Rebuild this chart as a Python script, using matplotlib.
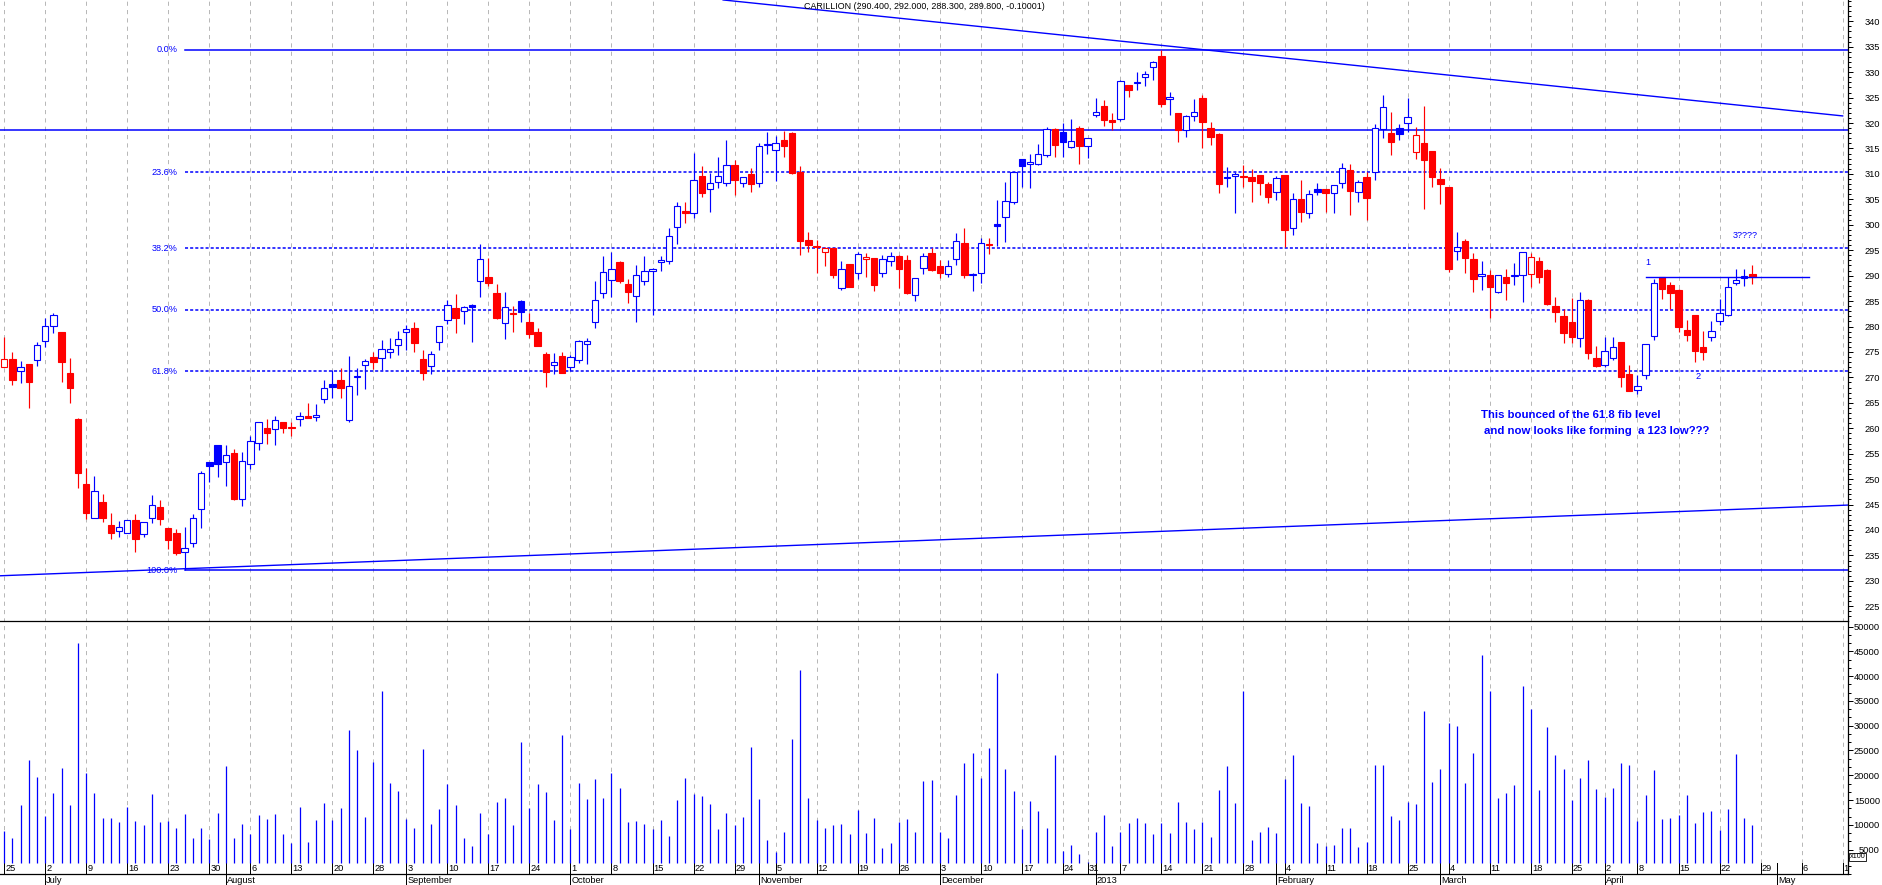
import numpy as np
import matplotlib
matplotlib.use("Agg")
import matplotlib.pyplot as plt
from matplotlib.ticker import MultipleLocator
from matplotlib.transforms import blended_transform_factory

plt.rcParams['font.family'] = ['Liberation Sans', 'DejaVu Sans']
plt.rcParams['lines.scale_dashes'] = False

BLUE = '#0000ff'
RED = '#ff0000'
GRID = '#b8b8b8'

# daily bars, 25 Jun 2012 .. 26 Apr 2013, trading days only
opens = [272.0, 273.6, 271.2, 272.6, 273.5, 277.1, 280.2, 278.9, 270.8, 261.9,
         249.0, 242.3, 245.5, 240.9, 239.8, 239.5, 242.0, 239.3, 242.4, 244.6,
         240.4, 239.5, 235.6, 237.5, 244.1, 253.4, 256.7, 253.4, 255.1, 246.0,
         253.0, 257.2, 260.0, 259.9, 261.2, 260.3, 261.9, 262.4, 262.3, 265.7,
         268.7, 269.5, 261.6, 270.0, 272.4, 274.1, 273.9, 275.0, 276.3, 279.0,
         279.8, 273.7, 272.2, 276.9, 281.2, 283.6, 283.0, 284.3, 289.0, 289.7,
         286.5, 280.6, 282.7, 285.1, 280.9, 279.0, 274.6, 272.5, 274.2, 272.1,
         273.5, 276.5, 280.8, 286.5, 289.1, 292.7, 288.4, 286.0, 289.0, 291.0,
         292.7, 292.9, 299.6, 302.6, 302.4, 309.6, 307.0, 308.5, 308.3, 311.7,
         308.2, 310.0, 308.3, 315.6, 314.8, 316.7, 318.0, 310.4, 297.0, 295.6,
         294.6, 295.4, 287.5, 292.3, 290.5, 293.2, 293.4, 290.5, 292.9, 293.9,
         293.1, 286.1, 291.6, 294.4, 291.8, 290.3, 293.2, 296.4, 290.1, 290.5,
         296.2, 300.1, 301.5, 304.5, 312.9, 311.9, 312.0, 313.7, 318.8, 318.2,
         315.2, 319.0, 315.4, 321.5, 323.4, 320.5, 320.7, 327.4, 327.8, 329.0,
         331.0, 333.2, 324.7, 321.9, 318.6, 321.3, 324.9, 319.0, 317.9, 309.3,
         309.5, 309.5, 309.3, 309.8, 308.0, 306.5, 309.7, 299.4, 305.0, 302.4,
         307.0, 307.0, 306.2, 308.2, 310.8, 306.5, 309.3, 310.3, 318.8, 318.0,
         319.0, 320.1, 314.4, 316.0, 314.5, 309.0, 307.4, 294.8, 296.8, 293.2,
         289.9, 290.1, 286.7, 289.7, 289.9, 290.1, 290.3, 292.9, 291.2, 284.0,
         282.1, 280.9, 277.7, 285.3, 273.9, 272.4, 273.9, 276.9, 270.6, 267.5,
         270.4, 278.2, 289.7, 288.2, 287.2, 279.4, 282.3, 275.9, 278.0, 281.1,
         282.3, 288.5, 289.6, 290.4]
highs = [278.0, 274.9, 273.3, 272.6, 277.0, 281.6, 282.6, 279.0, 273.9, 262.0,
         252.1, 250.6, 247.1, 243.3, 241.7, 242.0, 243.1, 241.5, 246.9, 245.8,
         240.4, 240.1, 240.6, 243.1, 251.6, 253.4, 256.7, 256.8, 256.0, 255.3,
         258.5, 261.2, 261.8, 262.4, 261.2, 261.2, 263.2, 264.9, 264.7, 269.5,
         271.4, 271.8, 274.2, 271.8, 273.7, 275.0, 277.3, 277.7, 279.1, 280.3,
         280.8, 275.4, 275.2, 280.1, 285.2, 286.4, 284.0, 284.4, 296.3, 293.4,
         288.4, 286.7, 284.1, 285.2, 282.7, 279.8, 274.9, 274.8, 275.0, 274.4,
         277.3, 277.7, 289.0, 293.9, 294.6, 292.8, 289.3, 292.0, 293.9, 291.5,
         293.9, 299.4, 304.5, 304.5, 314.2, 311.6, 310.1, 313.4, 316.7, 312.7,
         309.4, 311.2, 316.1, 318.2, 317.5, 318.4, 318.3, 311.6, 298.6, 297.1,
         295.7, 295.4, 292.8, 292.3, 294.7, 294.4, 293.4, 294.1, 294.6, 294.1,
         294.1, 289.6, 294.5, 295.4, 293.1, 293.1, 298.3, 299.4, 290.5, 297.5,
         297.5, 304.9, 308.5, 310.3, 312.9, 313.9, 315.9, 319.3, 319.0, 320.1,
         320.8, 319.5, 317.1, 324.9, 324.5, 321.9, 328.4, 327.5, 330.1, 330.3,
         332.1, 334.4, 326.2, 322.0, 321.5, 324.7, 325.5, 320.3, 318.0, 311.4,
         310.4, 311.8, 310.9, 309.8, 308.5, 309.5, 309.8, 306.3, 308.8, 306.8,
         308.3, 307.0, 307.9, 312.1, 312.0, 308.8, 310.3, 319.8, 325.6, 322.1,
         319.9, 325.0, 319.3, 323.4, 314.6, 311.1, 307.5, 298.6, 297.3, 294.4,
         292.8, 291.1, 290.2, 291.4, 292.4, 294.6, 294.4, 293.7, 291.3, 285.9,
         283.4, 285.7, 286.7, 285.4, 276.2, 277.9, 277.9, 277.0, 272.4, 270.4,
         276.6, 289.3, 289.8, 288.8, 287.3, 281.3, 282.3, 279.2, 281.1, 285.4,
         289.8, 291.4, 291.4, 292.0]
lows = [272.0, 268.5, 268.8, 264.0, 272.2, 276.0, 278.8, 269.0, 265.0, 248.3,
        242.2, 242.3, 241.5, 238.3, 238.7, 239.5, 235.7, 238.7, 241.3, 241.0,
        236.2, 235.1, 232.1, 236.6, 240.3, 249.5, 250.5, 248.7, 245.9, 244.8,
        251.9, 255.8, 257.0, 256.8, 259.0, 258.5, 260.4, 262.0, 261.5, 265.0,
        265.9, 265.9, 261.3, 266.5, 267.8, 271.7, 271.4, 273.9, 274.5, 275.4,
        274.9, 269.5, 270.7, 275.4, 280.4, 278.7, 280.4, 277.0, 285.9, 288.0,
        281.5, 277.6, 279.0, 280.8, 277.7, 276.2, 268.2, 270.7, 270.9, 271.3,
        272.9, 272.6, 279.8, 285.7, 285.9, 288.5, 284.7, 280.8, 288.2, 282.3,
        291.0, 292.3, 296.3, 300.3, 301.3, 305.5, 302.6, 307.2, 307.6, 305.9,
        307.5, 306.5, 307.5, 314.0, 308.6, 313.3, 310.0, 294.1, 294.7, 290.5,
        291.8, 289.5, 287.2, 287.8, 289.3, 289.8, 286.9, 289.7, 291.8, 287.5,
        286.3, 285.1, 290.3, 291.0, 289.5, 289.7, 292.1, 289.5, 286.9, 288.5,
        294.2, 295.8, 296.7, 304.1, 307.5, 307.2, 311.8, 313.4, 313.4, 313.4,
        315.1, 312.0, 313.1, 321.2, 319.5, 318.6, 320.5, 325.2, 326.5, 327.3,
        328.5, 323.2, 321.6, 316.3, 317.3, 320.5, 315.0, 315.6, 306.2, 307.5,
        302.3, 307.5, 304.5, 305.9, 304.2, 304.9, 295.7, 298.0, 300.6, 301.3,
        305.9, 302.6, 302.3, 307.2, 301.9, 304.5, 300.9, 308.8, 317.0, 313.7,
        316.7, 318.3, 312.9, 303.2, 307.5, 304.1, 290.8, 293.1, 290.5, 286.7,
        287.2, 281.6, 286.5, 285.2, 288.2, 284.9, 287.8, 288.5, 284.3, 280.8,
        276.7, 276.7, 276.0, 273.7, 272.0, 272.0, 273.4, 268.2, 267.3, 266.7,
        269.7, 277.3, 285.5, 283.4, 279.0, 277.1, 273.1, 273.4, 277.1, 280.3,
        282.1, 288.2, 288.0, 288.3]
closes = [273.6, 269.5, 272.0, 269.0, 276.3, 280.2, 282.2, 273.1, 268.0, 251.3,
          243.3, 247.6, 242.4, 239.5, 240.5, 242.0, 238.3, 241.5, 245.0, 242.1,
          238.1, 235.5, 236.4, 242.3, 251.2, 252.6, 252.9, 254.7, 246.1, 253.5,
          257.4, 261.2, 259.1, 261.6, 260.1, 260.0, 262.5, 262.1, 262.6, 268.0,
          268.2, 268.0, 268.3, 270.1, 273.2, 273.1, 275.5, 275.6, 277.6, 279.6,
          276.7, 270.9, 274.6, 280.1, 284.2, 281.7, 283.8, 283.9, 293.2, 288.5,
          281.7, 283.8, 282.5, 282.9, 278.5, 276.2, 271.1, 273.0, 270.9, 274.1,
          277.1, 277.2, 285.3, 290.7, 291.4, 289.0, 286.7, 290.1, 291.0, 291.3,
          293.0, 297.7, 303.6, 302.4, 308.9, 306.2, 308.2, 309.5, 311.7, 308.8,
          309.3, 308.0, 315.4, 315.9, 316.0, 315.4, 310.1, 296.9, 296.0, 295.9,
          295.4, 290.1, 291.4, 287.8, 294.3, 293.6, 288.2, 293.2, 293.9, 291.4,
          286.6, 289.5, 293.9, 291.2, 290.6, 291.8, 296.9, 290.1, 290.4, 296.4,
          296.0, 299.8, 304.7, 310.3, 311.6, 312.3, 314.0, 318.9, 315.7, 316.3,
          316.4, 315.4, 317.0, 322.1, 320.6, 320.3, 328.3, 326.4, 328.1, 329.6,
          332.0, 323.7, 325.1, 318.6, 321.4, 322.1, 320.3, 317.3, 308.0, 309.1,
          310.0, 309.3, 308.7, 308.2, 305.5, 309.1, 299.0, 305.0, 302.6, 306.1,
          306.5, 306.2, 307.8, 311.1, 306.7, 308.5, 305.2, 319.0, 323.1, 316.3,
          317.9, 321.1, 317.7, 312.7, 309.3, 308.0, 291.4, 295.6, 293.4, 289.3,
          290.3, 287.7, 290.1, 288.6, 290.1, 294.6, 293.6, 289.7, 284.4, 282.9,
          278.8, 277.9, 285.3, 274.7, 272.3, 275.1, 276.0, 270.1, 267.4, 268.4,
          276.5, 288.5, 287.4, 286.5, 280.0, 278.3, 275.1, 274.9, 279.2, 282.7,
          287.8, 289.2, 289.9, 289.8]
volumes = [8710, 7230, 13900, 23000, 19600, 11700, 16500, 21400, 13900, 46800,
           20500, 16400, 11300, 11300, 10500, 13500, 10700, 9860, 16200, 10500,
           10700, 9250, 12100, 7430, 9450, 7090, 12300, 21800, 7230, 10100,
           8040, 11900, 11100, 12100, 8040, 6420, 13500, 6620, 10900, 14300,
           10900, 13300, 29100, 25000, 11500, 22600, 37000, 18400, 16900, 11100,
           9450, 25400, 10100, 13100, 18200, 13900, 7230, 5810, 12300, 8040,
           14500, 15500, 9860, 26700, 13300, 18200, 16700, 10900, 28100, 9050,
           18400, 15300, 19200, 15500, 20500, 17500, 10500, 10700, 10100, 9050,
           10900, 7830, 15100, 19400, 16300, 15900, 14100, 9050, 12300, 9860,
           11500, 25800, 15300, 7020, 4600, 8640, 27300, 41200, 15500, 10900,
           9250, 9860, 10100, 8040, 12900, 8240, 11300, 5400, 6420, 10500,
           11100, 8640, 18800, 19000, 8640, 7430, 16100, 22400, 24400, 19400,
           25600, 40600, 21200, 16900, 9050, 14900, 12700, 9250, 24000, 4660,
           6010, 4190, 2500, 8640, 11900, 5810, 8640, 10300, 11300, 10300,
           8040, 10300, 8240, 14700, 10500, 9050, 10500, 7630, 17100, 21800,
           14300, 37000, 7020, 8640, 9650, 8440, 19200, 24000, 14300, 13700,
           6420, 5810, 6010, 9250, 9450, 5610, 6620, 22000, 22000, 11700,
           10900, 14700, 14100, 32900, 18600, 21200, 30500, 29900, 18400, 24400,
           44300, 37000, 15500, 16500, 18000, 38000, 33300, 17100, 29700, 24000,
           21200, 15100, 19400, 23000, 17300, 15700, 17500, 22400, 22000, 10700,
           16100, 21000, 11100, 11300, 11900, 16100, 10300, 12500, 12700, 8850,
           13100, 24200, 11300, 9860]
prev_close = 274.5

# x axis: first trading day of each week / month (index into the bars)
week_idx = [0, 5, 10, 15, 20, 25, 30, 35, 40, 45, 49, 54, 59, 64, 69, 74, 79, 84,
            89, 94, 99, 104, 109, 114, 119, 124, 129, 132, 136, 141, 146, 151, 156,
            161, 166, 171, 176, 181, 186, 191, 195, 199, 204, 209, 214, 219, 224]
week_lbl = ['25', '2', '9', '16', '23', '30', '6', '13', '20', '28', '3', '10', '17',
            '24', '1', '8', '15', '22', '29', '5', '12', '19', '26', '3', '10', '17',
            '24', '31', '7', '14', '21', '28', '4', '11', '18', '25', '4', '11', '18',
            '25', '2', '8', '15', '22', '29', '6', '1']
month_idx = [5, 27, 49, 69, 92, 114, 133, 155, 175, 195, 216]
month_lbl = ['July', 'August', 'September', 'October', 'November', 'December',
             '2013', 'February', 'March', 'April', 'May']

# drawing tools on the chart
fib_high = 334.45
fib_low = 232.1
fib_start = 22
fib_ratios = [0.0, 0.236, 0.382, 0.5, 0.618, 1.0]
resist_level = 318.6
upper_trend_x = [87.6, 224.0]
upper_trend_y = [344.2, 321.4]
lower_trend_x = [-0.5, 224.65]
lower_trend_y = [231.0, 244.9]
neck_x = [200.0, 219.9]
neck_y = [289.7, 289.7]

W, H = 1883, 885
XMAX = 224.65
fig = plt.figure(figsize=(W / 100, H / 100), dpi=100)
ax = fig.add_axes([0, 1 - 621 / H, 1848 / W, 621 / H])
axv = fig.add_axes([0, 1 - 874.3 / H, 1848 / W, 253.3 / H])

n = len(closes)
x = np.arange(n)
o = np.array(opens)
c = np.array(closes)
prev = np.concatenate([[prev_close], c[:-1]])
cols = np.where(c >= prev, BLUE, RED)
faces = np.where(c > o, 'white', cols)
bottoms = np.minimum(o, c)
heights = np.maximum(np.abs(c - o), 0.25)

# price panel
ax.vlines(week_idx, 222, 345, colors=GRID, linestyles=(0, (3, 3)), lw=0.72, zorder=1)
ax.vlines(x, lows, highs, colors=cols, lw=0.85, zorder=3)
ax.bar(x, heights, 0.78, bottom=bottoms, color=faces, edgecolor=cols, linewidth=0.8, zorder=4)

levels = [fib_high - r * (fib_high - fib_low) for r in fib_ratios]
for r, lv in zip(fib_ratios, levels):
    ls = '-' if r in (0.0, 1.0) else (0, (2.2, 1.5))
    ax.plot([fib_start, XMAX], [lv, lv], color=BLUE, lw=1.1, ls=ls, zorder=2)
    ax.text(fib_start - 0.9, lv, f'{r * 100:.1f}%', color=BLUE, fontsize=6.6,
            ha='right', va='center')
ax.axhline(resist_level, color=BLUE, lw=1.1, zorder=2)
ax.plot(upper_trend_x, upper_trend_y, color=BLUE, lw=1.0, zorder=2)
ax.plot(lower_trend_x, lower_trend_y, color=BLUE, lw=1.0, zorder=2)
ax.plot(neck_x, neck_y, color=BLUE, lw=1.0, zorder=5)

ax.text(200.3, 292.5, '1', color=BLUE, fontsize=6.6, ha='center', va='center')
ax.text(206.4, 270.1, '2', color=BLUE, fontsize=6.6, ha='center', va='center')
ax.text(212.1, 297.9, '3????', color=BLUE, fontsize=6.6, ha='center', va='center')
ax.text(179.9, 262.6, 'This bounced of the 61.8 fib level', color=BLUE,
        fontsize=8.2, fontweight='bold', ha='left', va='center')
ax.text(180.3, 259.5, 'and now looks like forming  a 123 low???', color=BLUE,
        fontsize=8.2, fontweight='bold', ha='left', va='center')

ax.set_xlim(-0.5, XMAX)
ax.set_ylim(222.11, 344.19)
ax.set_xticks([])
ax.yaxis.tick_right()
ax.yaxis.set_major_locator(MultipleLocator(5))
ax.yaxis.set_minor_locator(MultipleLocator(1))
ax.set_yticks(np.arange(225, 345, 5))
ax.tick_params(axis='y', which='major', length=3.6, width=0.72, pad=19.4, labelsize=6.7)
ax.tick_params(axis='y', which='minor', length=1.8, width=0.72)
for t in ax.get_yticklabels():
    t.set_horizontalalignment('right')
for s in ['left', 'top', 'bottom']:
    ax.spines[s].set_visible(False)
ax.spines['right'].set_linewidth(0.9)

fig.text(924 / W, 1 - 6.7 / H,
         'CARILLION (290.400, 292.000, 288.300, 289.800, -0.10001)',
         fontsize=6.4, ha='center', va='center')

# volume panel
vol_base = 2230
axv.vlines(week_idx, vol_base, 52000, colors=GRID, linestyles=(0, (3, 3)), lw=0.72, zorder=1)
axv.vlines(x, vol_base, volumes, colors=BLUE, lw=0.9, zorder=3)
axv.set_xlim(-0.5, XMAX)
axv.set_ylim(0, 51150)
axv.set_xticks([])
axv.yaxis.tick_right()
axv.set_yticks(np.arange(5000, 50001, 5000))
axv.yaxis.set_minor_locator(MultipleLocator(5000 / 3))
axv.tick_params(axis='y', which='major', length=3.6, width=0.72, pad=19.4, labelsize=6.7)
axv.tick_params(axis='y', which='minor', length=1.8, width=0.72)
for t in axv.get_yticklabels():
    t.set_horizontalalignment('right')
axv.spines['left'].set_visible(False)
for s in ['top', 'bottom', 'right']:
    axv.spines[s].set_linewidth(0.9)

tr = blended_transform_factory(axv.transData, axv.transAxes)
base_ax = (874.3 - 862.7) / 253.3
for wi, lb in zip(week_idx, week_lbl):
    axv.plot([wi, wi], [0, base_ax], color='black', lw=0.72, transform=tr, clip_on=False)
    axv.text(wi + 0.12, base_ax / 2, lb, fontsize=6.7, ha='left', va='center', transform=tr)
for mi, lb in zip(month_idx, month_lbl):
    axv.plot([mi, mi], [-(885 - 874.3) / 253.3, base_ax], color='black', lw=0.72,
             transform=tr, clip_on=False)
    axv.text(mi + 0.12, -(880.7 - 874.3) / 253.3, lb, fontsize=6.7, ha='left',
             va='center', transform=tr, clip_on=False)

fig.text(1849.5 / W, 1 - 857 / H, 'x100', fontsize=5.2, ha='left', va='center',
         bbox=dict(boxstyle='square,pad=0.08', fc='white', ec='black', lw=0.6))

fig.savefig('out.png', dpi=100)
